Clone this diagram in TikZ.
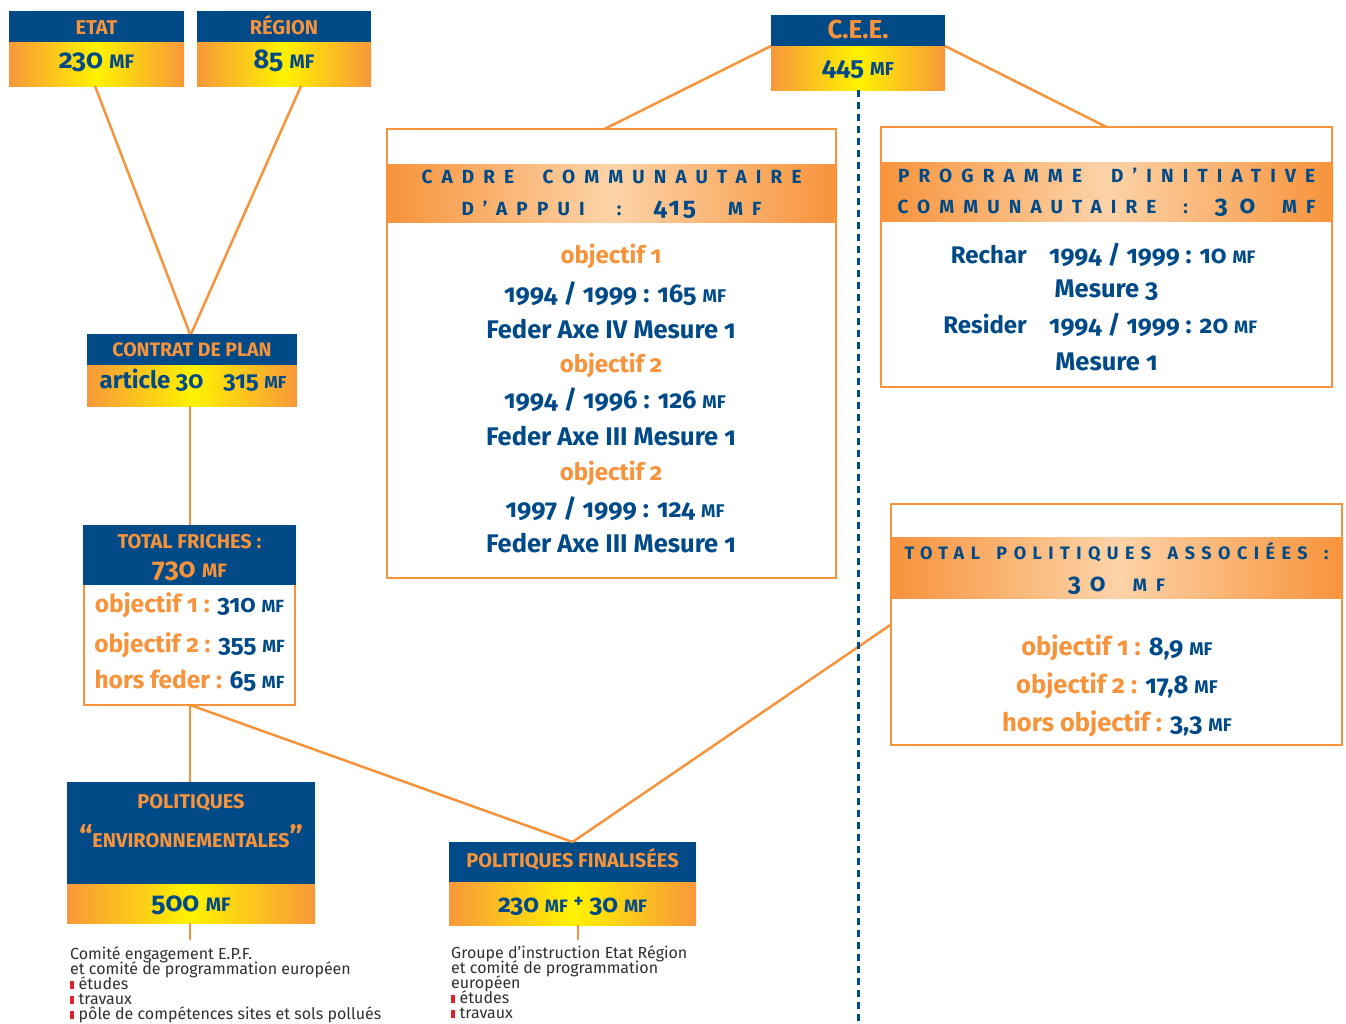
\documentclass[tikz,border=0pt]{standalone}
\usepackage{fontspec}
\setmainfont{Fira Sans}[Numbers=OldStyle]
\definecolor{navy}{HTML}{004A88}
\definecolor{orng}{HTML}{F7933B}
\definecolor{yel}{HTML}{FFF200}
\definecolor{gedge}{HTML}{F7983A}
\definecolor{peach}{HTML}{FCD3A8}
\definecolor{txtgray}{HTML}{2F2F2F}
\definecolor{bred}{HTML}{E3212B}
\newcommand\mf{\scalebox{0.72}{MF}}
\newcommand\fs[1]{\fontsize{#1}{#1}\selectfont}
\newcommand\redbullet{{\color{bred}\rule{3.5pt}{8.5pt}}\hspace{5pt}}
\newcommand\trk[1]{\addfontfeature{LetterSpace=#1}}
\newcommand\notefont{\fontsize{16}{15}\selectfont\setlength{\lineskiplimit}{-20pt}}
\tikzset{
  hdr/.style={fill=navy, inner sep=0, outer sep=0},
  grd/.style={left color=gedge, right color=gedge, middle color=yel, inner sep=0, outer sep=0},
  frm/.style={draw=orng, line width=2pt, fill=white, inner sep=0, outer sep=0},
  bnd/.style={left color=orng, right color=orng, middle color=peach, inner sep=0, outer sep=0},
  ht/.style={inner sep=0, anchor=base, text=orng, font=\bfseries\fs{20}},
  nt/.style={inner sep=0, anchor=base, text=navy, font=\bfseries\fs{27}},
  ct/.style={inner sep=0, anchor=base, text=navy, font=\bfseries\fs{25.5}},
  ot/.style={inner sep=0, anchor=base, text=orng, font=\bfseries\fs{24}},
  bt/.style={inner sep=0, anchor=base, text=navy, font=\bfseries\fs{19}},
  link/.style={draw=orng, line width=2.5pt},
  note/.style={inner sep=0, anchor=north west, align=left, text=txtgray, font=\notefont},
}
\begin{document}
\begin{tikzpicture}[x=1pt, y=-1pt]
\useasboundingbox (0,0) rectangle (1346,1023);

% ---------- boxes ----------
% ETAT
\node[hdr, minimum width=175, minimum height=31] (etatH) at (96.5,26.5) {};
\node[grd, minimum width=175, minimum height=44] (etatB) at (96.5,64) {};
\node[ht] (etatT) at (96.5,34) {ETAT};
\node[nt] (etatN) at (96.5,68) {230 \mf};
% REGION
\node[hdr, minimum width=174, minimum height=31] (regionH) at (284,26.5) {};
\node[grd, minimum width=174, minimum height=44] (regionB) at (284,64) {};
\node[ht] (regionT) at (284,34) {RÉGION};
\node[nt] (regionN) at (284,68) {85 \mf};
% CEE
\node[hdr, minimum width=174, minimum height=31] (ceeH) at (858,30.5) {};
\node[grd, minimum width=174, minimum height=44] (ceeB) at (858,68) {};
\node[ht, font=\bfseries\fs{26}] (ceeT) at (858,38) {C.E.E.};
\node[nt, font=\bfseries\fs{26}] (ceeN) at (858,75) {445 \mf};
% Contrat de plan
\node[hdr, minimum width=210, minimum height=31] (cpH) at (192,349.5) {};
\node[grd, minimum width=210, minimum height=41] (cpB) at (192,385.5) {};
\node[ht, font=\bfseries\fs{19.5}] (cpT) at (192,356) {CONTRAT DE PLAN};
\node[nt, font=\bfseries\fs{24}] (cpN) at (193,388) {article 30\hspace{20pt}315 \mf};
% Total friches
\node[frm, minimum width=211, minimum height=179] (tf) at (189.5,615.5) {};
\node[hdr, minimum width=213, minimum height=60] (tfH) at (189.5,555) {};
\node[ht] (tfT1) at (189.5,548) {TOTAL FRICHES :};
\node[ht, font=\bfseries\fs{27}] (tfT2) at (189.5,577) {730 \mf};
\node[ct, font=\bfseries\fs{24.5}] (tfL1) at (189.5,612) {{\color{orng}objectif 1 :} 310 \mf};
\node[ct, font=\bfseries\fs{24.5}] (tfL2) at (189.5,652) {{\color{orng}objectif 2 :} 355 \mf};
\node[ct, font=\bfseries\fs{24.5}] (tfL3) at (189.5,688) {{\color{orng}hors feder :} 65 \mf};
% Politiques environnementales
\node[hdr, minimum width=248, minimum height=102] (peH) at (191,833) {};
\node[grd, minimum width=248, minimum height=39] (peB) at (191,903.5) {};
\node[ht] (peT1) at (191,808) {POLITIQUES};
\node[ht] (peT2) at (191,847) {{\fs{30}“}ENVIRONNEMENTALES{\fs{30}”}};
\node[nt] (peN) at (191,911) {500 \mf};
% Politiques finalisees
\node[hdr, minimum width=247, minimum height=40] (pfH) at (572.5,862) {};
\node[grd, minimum width=247, minimum height=43] (pfB) at (572.5,903.5) {};
\node[ht] (pfT) at (572.5,867) {POLITIQUES FINALISÉES};
\node[nt, font=\bfseries\fs{25}] (pfN) at (572.5,912) {230 \mf\ \raisebox{5pt}{\scalebox{0.75}{+}} 30 \mf};

% Cadre communautaire d'appui
\node[frm, minimum width=449, minimum height=449] (cadre) at (611.5,353.5) {};
\node[bnd, minimum width=451, minimum height=58] (cadreB) at (611.5,193) {};
\node[bt] (cadreT1) at (611.5,183) {\makebox[380pt][s]{\trk{48}CADRE\hfill COMMUNAUTAIRE}};
\node[bt] (cadreT2) at (611.5,215) {\makebox[300pt][s]{\trk{48}D’APPUI\hfill:\hfill{\trk{12}\fs{25}415}\hfill MF}};
\node[ot] (cc1) at (611,263) {objectif 1};
\node[ct] (cc2) at (615,302) {1994 / 1999 : 165 \mf};
\node[ct] (cc3) at (611,338) {Feder Axe IV Mesure 1};
\node[ot] (cc4) at (611,372) {objectif 2};
\node[ct] (cc5) at (615,408) {1994 / 1996 : 126 \mf};
\node[ct] (cc6) at (611,445) {Feder Axe III Mesure 1};
\node[ot] (cc7) at (611,480) {objectif 2};
\node[ct] (cc8) at (615,517) {1997 / 1999 : 124 \mf};
\node[ct] (cc9) at (611,552) {Feder Axe III Mesure 1};

% Programme d'initiative communautaire
\node[frm, minimum width=451, minimum height=260] (pic) at (1106.5,257) {};
\node[bnd, minimum width=453, minimum height=59] (picB) at (1106.5,191.5) {};
\node[bt] (picT1) at (1106.5,182) {\makebox[417pt][s]{\trk{48}PROGRAMME\hfill D’INITIATIVE}};
\node[bt] (picT2) at (1106.5,213) {\makebox[418pt][s]{\trk{48}COMMUNAUTAIRE\hfill:\hfill{\fs{25}3\hspace{12pt}0}\hfill MF}};
\node[ct, font=\bfseries\fs{24}, anchor=base east] (picL1) at (1027,263) {Rechar};
\node[ct, font=\bfseries\fs{25}, anchor=base west] (picN1) at (1049,263) {1994 / 1999 : 10 \mf};
\node[ct] (picM1) at (1106.5,297) {Mesure 3};
\node[ct, font=\bfseries\fs{24}, anchor=base east] (picL2) at (1027,333) {Resider};
\node[ct, font=\bfseries\fs{25}, anchor=base west] (picN2) at (1049,333) {1994 / 1999 : 20 \mf};
\node[ct] (picM2) at (1106.5,370) {Mesure 1};

% Total politiques associees
\node[frm, minimum width=451, minimum height=241] (tpa) at (1116.5,624.5) {};
\node[bnd, minimum width=453, minimum height=61] (tpaB) at (1116.5,567.5) {};
\node[bt, font=\bfseries\fs{18}] (tpaT1) at (1116.5,559) {\makebox[424pt][s]{\trk{36}TOTAL\hfill POLITIQUES\hfill ASSOCIÉES\hfill :}};
\node[bt, font=\bfseries\fs{18}] (tpaT2) at (1116.5,591) {\makebox[97pt][s]{{\fs{25}3\hfill 0}\hfill\hfill\hfill M\hfill F}};
\node[ct] (tpaL1) at (1117,655) {{\color{orng}objectif 1 :} 8,9 \mf};
\node[ct] (tpaL2) at (1117,693) {{\color{orng}objectif 2 :} 17,8 \mf};
\node[ct] (tpaL3) at (1117,731) {{\color{orng}hors objectif :} 3,3 \mf};

% notes
\node[note] (peNote) at (70,946) {Comité engagement E.P.F.\\et comité de programmation européen\\\redbullet études\\\redbullet travaux\\\redbullet pôle de compétences sites et sols pollués};
\node[note] (pfNote) at (451,945) {Groupe d’instruction Etat Région\\et comité de programmation\\européen\\\redbullet études\\\redbullet travaux};

% ---------- connectors ----------
\draw[link] ([xshift=-1.5pt]etatB.south) -- ([xshift=-2pt]cpH.north);
\draw[link] ([xshift=17pt]regionB.south) -- ([xshift=-1pt]cpH.north);
\draw[link] ([xshift=-2pt]cpB.south) -- ([xshift=0.5pt]tfH.north);
\draw[link] (ceeH.south west) -- ([xshift=-7pt]cadre.north);
\draw[link] (ceeH.south east) -- (pic.north);
\draw[link] ([xshift=0.5pt]tf.south) -- ([xshift=-1pt]peH.north);
\draw[link] ([xshift=0.5pt]tf.south) -- (pfH.north);
\draw[link] (tpa.west) -- (pfH.north);
\coordinate (peEnd) at (190,940);
\draw[link] ([xshift=-1pt]peB.south) -- (peEnd);
\coordinate (pfEnd) at (578,940);
\draw[link] ([xshift=5.5pt]pfB.south) -- (pfEnd);
\coordinate (dashEnd) at (858,1023);
\draw[navy, line width=3pt, dash pattern=on 7pt off 5pt] (ceeB.south) -- (dashEnd);
\end{tikzpicture}
\end{document}
